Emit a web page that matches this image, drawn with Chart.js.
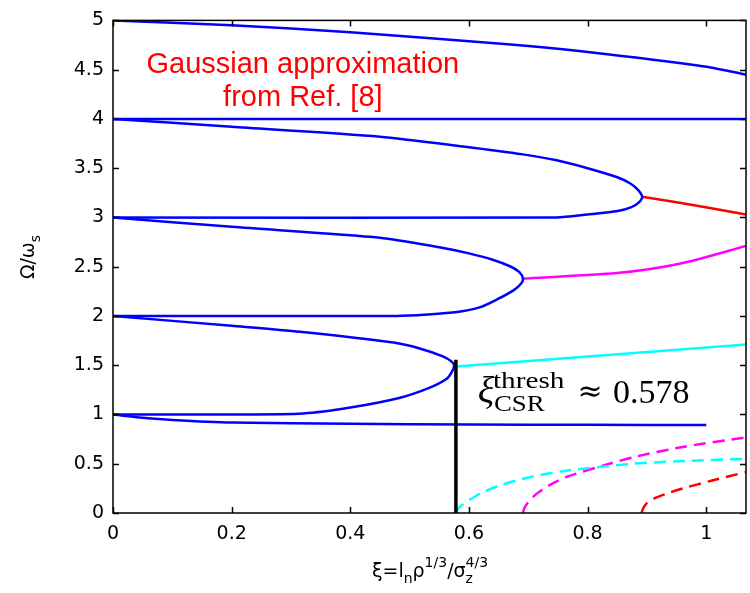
<!DOCTYPE html>
<html>
<head>
<meta charset="utf-8">
<script src="https://cdn.jsdelivr.net/npm/chart.js@4.4.0/dist/chart.umd.min.js"></script>
<style>
html, body { margin: 0; padding: 0; background: #fff; }
</style>
</head>
<body>
<canvas id="grafico" width="750" height="593"></canvas>
<script>
// tick values
const xTicks = [0, 0.2, 0.4, 0.6, 0.8, 1];
const yTicks = [0, 0.5, 1, 1.5, 2, 2.5, 3, 3.5, 4, 4.5, 5];

// blue branches
const topX = [0, 0.2, 0.4, 0.66, 0.8, 1.0, 1.067];
const topY = [5, 4.95, 4.88, 4.76, 4.68, 4.53, 4.45];
const flat4X = [0, 1.067];
const flat4Y = [4, 4];
const loopAX = [0, 0.2, 0.45, 0.59, 0.691, 0.748, 0.80, 0.849, 0.872, 0.885, 0.892, 0.886, 0.874, 0.851, 0.80, 0.748, 0];
const loopAY = [4, 3.92, 3.82, 3.72, 3.64, 3.58, 3.50, 3.41, 3.345, 3.28, 3.21, 3.15, 3.105, 3.065, 3.03, 3.0, 3.0];
const loopBX = [0, 0.2, 0.45, 0.55, 0.60, 0.64, 0.67, 0.685, 0.691, 0.688, 0.675, 0.648, 0.619, 0.58, 0.53, 0.478, 0];
const loopBY = [3, 2.905, 2.795, 2.697, 2.635, 2.571, 2.502, 2.445, 2.38, 2.33, 2.26, 2.17, 2.09, 2.04, 2.015, 2.0, 2.0];
const loopCX = [0, 0.2, 0.315, 0.473, 0.517, 0.556, 0.570, 0.575, 0.571, 0.562, 0.533, 0.484, 0.40, 0.321, 0.2, 0];
const loopCY = [2, 1.90, 1.84, 1.73, 1.67, 1.59, 1.54, 1.50, 1.43, 1.36, 1.27, 1.17, 1.07, 1.01, 1.0, 1.0];
const lowX = [0, 0.05, 0.1, 0.2, 0.4, 0.6, 0.8, 1.0];
const lowY = [1, 0.968, 0.945, 0.918, 0.905, 0.898, 0.895, 0.894];

// coloured continuations (solid)
const redX = [0.892, 0.955, 1.067];
const redY = [3.21, 3.15, 3.03];
const magX = [0.691, 0.849, 0.955, 1.067];
const magY = [2.38, 2.435, 2.53, 2.71];
const cyanX = [0.579, 1.067];
const cyanY = [1.487, 1.71];

// dashed branches
const cyanDX = [0.579, 0.581, 0.588, 0.60, 0.62, 0.652, 0.70, 0.764, 0.877, 0.97, 1.067];
const cyanDY = [0, 0.04, 0.08, 0.13, 0.2, 0.28, 0.36, 0.43, 0.50, 0.53, 0.55];
const magDX = [0.691, 0.694, 0.708, 0.735, 0.764, 0.82, 0.877, 0.96, 1.067];
const magDY = [0, 0.06, 0.164, 0.28, 0.365, 0.47, 0.566, 0.67, 0.767];
const redDX = [0.891, 0.893, 0.90, 0.915, 0.935, 0.961, 1.01, 1.067];
const redDY = [0, 0.04, 0.10, 0.155, 0.20, 0.25, 0.33, 0.415];

// threshold
const threshX = [0.578, 0.578];
const threshY = [0, 1.555];

function punti(xs, ys) {
	return xs.map((x, i) => ({ x: x, y: ys[i] }));
}

function linea(xs, ys, colore, larghezza, dash, tensione) {
	return {
		data: punti(xs, ys),
		borderColor: colore,
		borderWidth: larghezza,
		borderDash: dash || [],
		showLine: true,
		pointRadius: 0,
		tension: tensione || 0,
		fill: false
	};
}

// draws a run of pieces [text, size, dy, noAdvance] left to right
function scriviPezzi(ctx, pezzi, x, y, famiglia) {
	let cx = x;
	pezzi.forEach(function (p) {
		ctx.font = p[1] + 'px ' + famiglia;
		ctx.fillText(p[0], cx, y + p[2]);
		if (!p[3]) cx += ctx.measureText(p[0]).width;
	});
	return cx;
}

function larghezzaPezzi(ctx, pezzi, famiglia) {
	let w = 0;
	pezzi.forEach(function (p) {
		ctx.font = p[1] + 'px ' + famiglia;
		if (!p[3]) w += ctx.measureText(p[0]).width;
	});
	return w;
}

const decorazioni = {
	id: 'decorazioni',
	afterDraw(chart) {
		const ctx = chart.ctx;
		const a = chart.chartArea;
		const sx = chart.scales.x, sy = chart.scales.y;
		ctx.save();
		ctx.strokeStyle = '#000';
		ctx.lineWidth = 1.5;
		ctx.strokeRect(a.left, a.top, a.right - a.left, a.bottom - a.top);
		ctx.beginPath();
		xTicks.forEach(function (v) {
			const px = Math.round(sx.getPixelForValue(v)) + 0.5;
			ctx.moveTo(px, a.bottom); ctx.lineTo(px, a.bottom - 6);
			ctx.moveTo(px, a.top); ctx.lineTo(px, a.top + 6);
		});
		yTicks.forEach(function (v) {
			const py = Math.round(sy.getPixelForValue(v)) + 0.5;
			ctx.moveTo(a.left, py); ctx.lineTo(a.left + 6, py);
			ctx.moveTo(a.right, py); ctx.lineTo(a.right - 6, py);
		});
		ctx.stroke();

		// red label
		ctx.fillStyle = '#ff0000';
		ctx.textAlign = 'center';
		ctx.textBaseline = 'alphabetic';
		ctx.font = '29px "Liberation Sans", Arial, sans-serif';
		const lx = sx.getPixelForValue(0.32);
		ctx.fillText('Gaussian approximation', lx, sy.getPixelForValue(4.47));
		ctx.fillText('from Ref. [8]', lx, sy.getPixelForValue(4.13));

		// threshold annotation
		ctx.fillStyle = '#000';
		ctx.textAlign = 'left';
		const ax = sx.getPixelForValue(0.618);
		const ab = sy.getPixelForValue(1.12);
		ctx.font = 'italic 38px "Liberation Serif", serif';
		ctx.fillText('\u03BE', ax - 2, ab);
		const wx = ctx.measureText('\u03BE').width - 3;
		ctx.save();
		ctx.translate(ax + wx, ab - 15);
		ctx.scale(1.22, 1);
		ctx.font = '24px "Liberation Serif", serif';
		ctx.fillText('thresh', 0, 0);
		ctx.restore();
		ctx.save();
		ctx.translate(ax + wx + 1, ab + 8);
		ctx.scale(1.12, 1);
		ctx.font = '24px "Liberation Serif", serif';
		ctx.fillText('CSR', 0, 0);
		ctx.restore();
		ctx.font = '30px "DejaVu Serif", serif';
		ctx.fillText('\u2248', sx.getPixelForValue(0.783), ab - 2);
		ctx.font = '34px "Liberation Serif", serif';
		ctx.fillText('0.578', sx.getPixelForValue(0.843), ab);

		// x title
		const fam = '"DejaVu Sans", sans-serif';
		const pezziX = [
			['\u03BE=l', 19, 0], ['n', 14, 6], ['\u03C1', 19, 0], ['1/3', 14, -10],
			['/\u03C3', 19, 0], ['z', 14, 6, true], ['4/3', 14, -10]
		];
		const wX = larghezzaPezzi(ctx, pezziX, fam);
		scriviPezzi(ctx, pezziX, 430 - wX / 2, 577, fam);

		// y title
		const pezziY = [['\u03A9/\u03C9', 19, 0], ['s', 14, 6]];
		const wY = larghezzaPezzi(ctx, pezziY, fam);
		ctx.save();
		ctx.translate(34, 257);
		ctx.rotate(-Math.PI / 2);
		scriviPezzi(ctx, pezziY, -wY / 2, 0, fam);
		ctx.restore();
		ctx.restore();
	}
};

const etichetta = v => String(+v.toFixed(2));
const fontTick = { family: '"DejaVu Sans", sans-serif', size: 19 };

const config = {
	type: 'scatter',
	data: {
		datasets: [
			linea(threshX, threshY, '#000000', 3.5),
			linea(topX, topY, '#0000ff', 2.5, null, 0.25),
			linea(flat4X, flat4Y, '#0000ff', 2.5),
			linea(loopAX, loopAY, '#0000ff', 2.5, null, 0.25),
			linea(loopBX, loopBY, '#0000ff', 2.5, null, 0.25),
			linea(loopCX, loopCY, '#0000ff', 2.5, null, 0.25),
			linea(lowX, lowY, '#0000ff', 2.5, null, 0.25),
			linea(redX, redY, '#ff0000', 2.5, null, 0.2),
			linea(magX, magY, '#ff00ff', 2.5, null, 0.25),
			linea(cyanX, cyanY, '#00ffff', 2.5),
			linea(cyanDX, cyanDY, '#00ffff', 2.5, [12, 7], 0.25),
			linea(magDX, magDY, '#ff00ff', 2.5, [12, 7], 0.25),
			linea(redDX, redDY, '#ff0000', 2.5, [12, 7], 0.25)
		]
	},
	options: {
		responsive: false,
		animation: false,
		devicePixelRatio: 1,
		layout: { padding: { top: 15, right: 4, left: 0, bottom: 0 } },
		plugins: { legend: { display: false }, tooltip: { enabled: false } },
		scales: {
			x: {
				type: 'linear', min: 0, max: 1.067,
				grid: { display: false, drawTicks: false, tickLength: 0 }, border: { display: false },
				afterBuildTicks: s => { s.ticks = xTicks.map(v => ({ value: v })); },
				afterFit: s => { s.height = 80; },
				ticks: { color: '#000', font: fontTick, padding: 10, maxRotation: 0, callback: etichetta }
			},
			y: {
				type: 'linear', min: 0, max: 5,
				grid: { display: false, drawTicks: false, tickLength: 0 }, border: { display: false },
				afterBuildTicks: s => { s.ticks = yTicks.map(v => ({ value: v })); },
				afterFit: s => { s.width = 113; },
				ticks: { color: '#000', font: fontTick, padding: 9, callback: etichetta }
			}
		}
	},
	plugins: [decorazioni]
};

const grafico = new Chart(document.getElementById('grafico').getContext('2d'), config);
</script>
</body>
</html>
